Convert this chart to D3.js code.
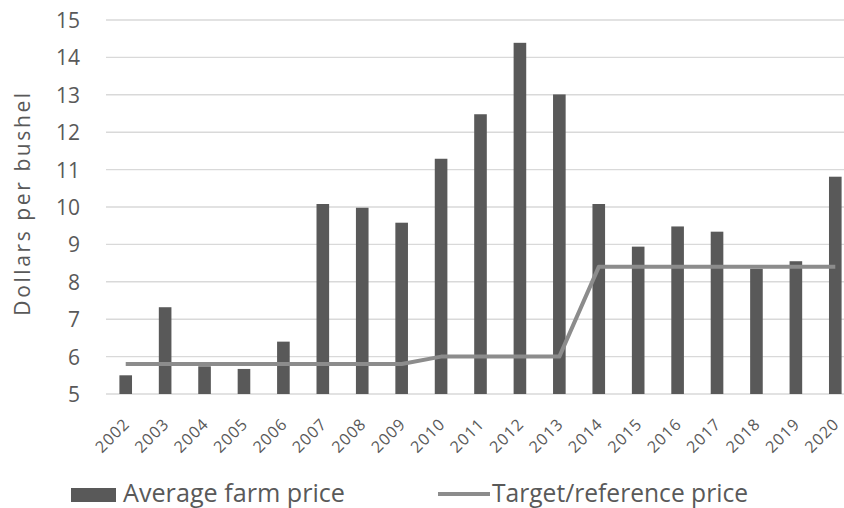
<!DOCTYPE html>
<html>
<head>
<meta charset="utf-8">
<script src="https://cdn.jsdelivr.net/npm/d3@7"></script>
<style>
  html, body { margin: 0; padding: 0; background: #fff; overflow: hidden; }
  svg { display: block; }
  text { fill: #595959; }
</style>
</head>
<body>
<svg id="chart" width="844" height="508"></svg>
<script>
// Soybean prices, dollars per bushel
const years = ["2002","2003","2004","2005","2006","2007","2008","2009","2010","2011",
               "2012","2013","2014","2015","2016","2017","2018","2019","2020"];
const farmPrice = [5.50, 7.32, 5.74, 5.67, 6.40, 10.08, 9.98, 9.58, 11.29, 12.48,
                   14.39, 13.01, 10.08, 8.94, 9.48, 9.34, 8.35, 8.55, 10.81];
const targetPrice = [5.80, 5.80, 5.80, 5.80, 5.80, 5.80, 5.80, 5.80, 6.00, 6.00,
                     6.00, 6.00, 8.40, 8.40, 8.40, 8.40, 8.40, 8.40, 8.40];
const yTicks = [5, 6, 7, 8, 9, 10, 11, 12, 13, 14, 15];
const seriesNames = ["Average farm price", "Target/reference price"];

const svg = d3.select("#chart");
const plot = { left: 106, right: 855, top: 20, bottom: 394 };

const x = d3.scaleBand().domain(years).range([plot.left, plot.right]).paddingInner(0.68).paddingOuter(0.34);
const y = d3.scaleLinear().domain([5, 15]).range([plot.bottom, plot.top]);

const font = "'Open Sans', 'DejaVu Sans', sans-serif";

// gridlines
svg.append("g")
  .selectAll("line").data(yTicks).join("line")
  .attr("x1", plot.left).attr("x2", plot.right)
  .attr("y1", d => y(d)).attr("y2", d => y(d))
  .attr("stroke", "#d9d9d9").attr("stroke-width", 1.4);

// y axis labels
const yAxis = d3.axisLeft(y).tickValues(yTicks).tickSize(0).tickPadding(0);
svg.append("g")
  .attr("transform", `translate(${plot.left - 26},0)`)
  .call(yAxis)
  .call(g => g.select(".domain").remove())
  .call(g => g.selectAll("text")
    .attr("font-family", font).attr("font-size", 21).attr("fill", "#595959")
    .attr("dy", "0.36em"));

// y axis title
svg.append("text")
  .attr("transform", "translate(30,203) rotate(-90)")
  .attr("text-anchor", "middle")
  .attr("font-family", font).attr("font-size", 21)
  .attr("letter-spacing", 2.6)
  .text("Dollars per bushel");

// bars
svg.append("g")
  .selectAll("rect").data(years).join("rect")
  .attr("x", d => x(d))
  .attr("width", x.bandwidth())
  .attr("y", (d, i) => y(farmPrice[i]))
  .attr("height", (d, i) => y(5) - y(farmPrice[i]))
  .attr("fill", "#595959");

// target/reference price line
const line = d3.line()
  .x((d, i) => x(years[i]) + x.bandwidth() / 2)
  .y(d => y(d));
svg.append("path")
  .datum(targetPrice)
  .attr("d", line)
  .attr("fill", "none")
  .attr("stroke", "#8c8c8c")
  .attr("stroke-width", 4)
  .attr("stroke-linejoin", "round");

// x axis labels, rotated
const xAxis = d3.axisBottom(x).tickSize(0).tickPadding(0);
svg.append("g")
  .attr("transform", `translate(0,${plot.bottom})`)
  .call(xAxis)
  .call(g => g.select(".domain").remove())
  .call(g => g.selectAll("text")
    .attr("font-family", font)
    .attr("font-size", 16).attr("fill", "#595959")
    .attr("letter-spacing", 1)
    .attr("text-anchor", "end")
    .attr("dy", 0).attr("y", 0)
    .attr("transform", "translate(5,31) rotate(-45)"));

// legend
const legend = svg.append("g");
legend.append("rect")
  .attr("x", 71).attr("y", 488).attr("width", 45).attr("height", 14)
  .attr("fill", "#595959");
legend.append("text")
  .attr("x", 123).attr("y", 502)
  .attr("font-family", font).attr("font-size", 25)
  .attr("textLength", 222).attr("lengthAdjust", "spacingAndGlyphs")
  .text(seriesNames[0]);
legend.append("line")
  .attr("x1", 438).attr("x2", 490).attr("y1", 494).attr("y2", 494)
  .attr("stroke", "#8c8c8c").attr("stroke-width", 4);
legend.append("text")
  .attr("x", 492).attr("y", 502)
  .attr("font-family", font).attr("font-size", 25)
  .attr("textLength", 256).attr("lengthAdjust", "spacingAndGlyphs")
  .text(seriesNames[1]);
</script>
</body>
</html>
